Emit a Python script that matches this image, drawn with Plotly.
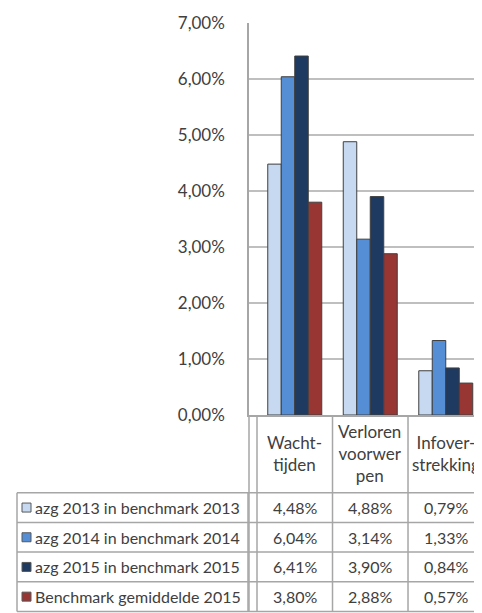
import plotly.graph_objects as go

# ---- data ----
categories = ["Wacht-tijden", "Verloren voorwerpen", "Infover-strekking"]
header_labels = ["Wacht-<br>tijden", "Verloren<br>voorwer<br>pen", "Infover-<br>strekking"]
series_names = [
    "azg 2013 in benchmark 2013",
    "azg 2014 in benchmark 2014",
    "azg 2015 in benchmark 2015",
    "Benchmark gemiddelde 2015",
]
azg_2013 = [4.48, 4.88, 0.79]
azg_2014 = [6.04, 3.14, 1.33]
azg_2015 = [6.41, 3.90, 0.84]
benchmark_2015 = [3.80, 2.88, 0.57]
series_values = [azg_2013, azg_2014, azg_2015, benchmark_2015]
colors = ["#c6d9f1", "#558ed5", "#1f3a60", "#983634"]
y_tick_values = [0, 1, 2, 3, 4, 5, 6, 7]

# ---- layout constants (page pixels; the page body has an 8px margin) ----
OFF = 8
PAGE_W, PAGE_H = 482, 613
W, H = PAGE_W - OFF, PAGE_H - OFF
plot_left_pg, plot_right_pg = 249, 482
plot_top_pg, plot_bottom_pg = 23, 415
ML = plot_left_pg - OFF
MR = PAGE_W - plot_right_pg
MT = plot_top_pg - OFF
MB = PAGE_H - plot_bottom_pg
plot_w = plot_right_pg - plot_left_pg
plot_h = plot_bottom_pg - plot_top_pg
text_color = "#404040"
grid_color = "#bfbfbf"
line_color = "#a6a6a6"
font_family = "Lato, 'Open Sans', sans-serif"


def py(px):
    """page pixel y -> paper y"""
    return (plot_bottom_pg - px) / plot_h


def pxx(px):
    """page pixel x -> paper x"""
    return (px - plot_left_pg) / plot_w


fig = go.Figure()
for name, vals, col in zip(series_names, series_values, colors):
    fig.add_trace(go.Bar(
        x=categories, y=[v / 100 for v in vals], name=name,
        marker=dict(color=col, line=dict(color="#3f3f3f", width=1)),
        showlegend=False,
    ))

# table geometry
header_top = plot_bottom_pg
header_bottom = 492.7
row_h = 29.7
n_rows = len(series_names)
table_bottom = header_bottom + n_rows * row_h
legend_left = 17
legend_right = 248

shapes = []
for i in range(n_rows + 1):
    yy = py(header_bottom + i * row_h)
    shapes.append(dict(type="line", xref="paper", yref="paper",
                       x0=pxx(legend_left), x1=1, y0=yy, y1=yy,
                       line=dict(color=line_color, width=1.5)))
for xx in [legend_left, legend_right]:
    shapes.append(dict(type="line", xref="paper", yref="paper",
                       x0=pxx(xx), x1=pxx(xx), y0=py(header_bottom), y1=py(table_bottom),
                       line=dict(color=line_color, width=1.5)))
shapes.append(dict(type="line", xref="paper", yref="paper",
                   x0=0, x1=0, y0=0, y1=py(table_bottom),
                   line=dict(color=line_color, width=1.5)))
for b in [-0.5, 0.5, 1.5]:
    shapes.append(dict(type="line", xref="x", yref="paper",
                       x0=b, x1=b, y0=0, y1=py(table_bottom),
                       line=dict(color=line_color, width=1.5)))

annotations = []
for cat, lab in zip(categories, header_labels):
    annotations.append(dict(x=cat, xref="x", y=py((header_top + header_bottom) / 2), yref="paper",
                            text=lab, showarrow=False, xanchor="center", yanchor="middle",
                            font=dict(family=font_family, size=17, color=text_color)))
for r, (name, vals, col) in enumerate(zip(series_names, series_values, colors)):
    yc = header_bottom + (r + 0.5) * row_h
    shapes.append(dict(type="rect", xref="paper", yref="paper",
                       x0=pxx(22), x1=pxx(31), y0=py(yc - 4.5), y1=py(yc + 4.5),
                       fillcolor=col, line=dict(color="#595959", width=1)))
    annotations.append(dict(x=pxx(33), xref="paper", y=py(yc), yref="paper",
                            text=name, showarrow=False, xanchor="left", yanchor="middle",
                            font=dict(family=font_family, size=16, color=text_color)))
    for cat, v in zip(categories, vals):
        annotations.append(dict(x=cat, xref="x", y=py(yc), yref="paper",
                                text=f"{v:.2f}%".replace(".", ","), showarrow=False,
                                xanchor="center", yanchor="middle",
                                font=dict(family=font_family, size=16, color=text_color)))

fig.update_layout(
    width=W, height=H,
    margin=dict(l=ML, r=MR, t=MT, b=MB),
    paper_bgcolor="white", plot_bgcolor="white",
    separators=", ",
    barmode="group", bargap=0.285, bargroupgap=0,
    font=dict(family=font_family, color=text_color),
    xaxis=dict(type="category", categoryarray=categories, range=[-0.606, 2.48],
               showticklabels=False, showgrid=False, zeroline=False,
               showline=True, linecolor=line_color, linewidth=1.5, ticks=""),
    yaxis=dict(range=[0, 0.07], tickvals=[v / 100 for v in y_tick_values], tickformat=".2%",
               showgrid=True, gridcolor=grid_color, gridwidth=1.5, zeroline=False,
               showline=True, linecolor=line_color, linewidth=1.5,
               ticks="", ticklabelstandoff=19,
               tickfont=dict(family=font_family, size=17, color=text_color)),
    shapes=shapes,
    annotations=annotations,
)

fig.write_html("out.html")
